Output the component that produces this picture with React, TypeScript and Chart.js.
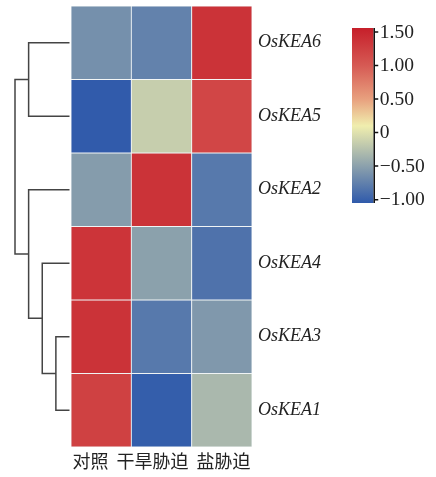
import { useEffect, useRef } from "react";
import { Chart, registerables } from "chart.js";

Chart.register(...registerables);

const conditions = ["对照", "干旱胁迫", "盐胁迫"];
const genes = ["OsKEA6", "OsKEA5", "OsKEA2", "OsKEA4", "OsKEA3", "OsKEA1"];
const controlValues = [-0.63, -1.04, -0.54, 1.36, 1.37, 1.24];
const droughtValues = [-0.74, -0.15, 1.37, -0.5, -0.81, -1.02];
const saltValues = [1.37, 1.19, -0.81, -0.86, -0.57, -0.32];
// hierarchical clustering: [childA, childB, height]; leaves 0..5, new clusters 6..
const linkage: [number, number, number][] = [
  [4, 5, 1],
  [3, 6, 2],
  [0, 1, 3],
  [2, 7, 3],
  [8, 9, 4],
];
const colorbarTicks = [1.5, 1.0, 0.5, 0, -0.5, -1.0];
const colorbarTickLabels = ["1.50", "1.00", "0.50", "0", "−0.50", "−1.00"];
const colorStops: [number, string][] = [
  [-1.05, "#2f5aab"],
  [0.1, "#f0eeae"],
  [0.5, "#e8a07e"],
  [1.0, "#d65a54"],
  [1.56, "#c61f2a"],
];

function hexToRgb(h: string) {
  const n = parseInt(h.slice(1), 16);
  return [(n >> 16) & 255, (n >> 8) & 255, n & 255];
}

function colorFor(v: number) {
  const s = colorStops;
  if (v <= s[0][0]) return s[0][1];
  if (v >= s[s.length - 1][0]) return s[s.length - 1][1];
  for (let i = 0; i < s.length - 1; i++) {
    const [v0, c0] = s[i];
    const [v1, c1] = s[i + 1];
    if (v >= v0 && v <= v1) {
      const t = (v - v0) / (v1 - v0);
      const a = hexToRgb(c0);
      const b = hexToRgb(c1);
      const r = a.map((x, k) => Math.round(x + (b[k] - x) * t));
      return `rgb(${r[0]},${r[1]},${r[2]})`;
    }
  }
  return s[0][1];
}

const dendroPlugin = {
  id: "dendro",
  afterDraw(chart: any) {
    const { ctx, chartArea, scales } = chart;
    const y = scales.y;
    const leafX = chartArea.left - 1.5;
    const rootX = 15;
    const maxH = Math.max(...linkage.map((m) => m[2]));
    const nodes = genes.map((_, i) => ({ x: leafX, y: y.getPixelForValue(i + 0.5) }));
    ctx.save();
    ctx.strokeStyle = "#444";
    ctx.lineWidth = 1.5;
    ctx.beginPath();
    linkage.forEach(([a, b, h]) => {
      const xm = leafX - (h / maxH) * (leafX - rootX);
      const A = nodes[a];
      const B = nodes[b];
      ctx.moveTo(A.x, A.y);
      ctx.lineTo(xm, A.y);
      ctx.lineTo(xm, B.y);
      ctx.lineTo(B.x, B.y);
      nodes.push({ x: xm, y: (A.y + B.y) / 2 });
    });
    ctx.stroke();
    ctx.restore();
  },
};

const colorbarPlugin = {
  id: "colorbar",
  afterDraw(chart: any) {
    const { ctx } = chart;
    const x0 = 352;
    const w = 21.5;
    const top = 28;
    const bottom = 203;
    const vMin = colorStops[0][0];
    const vMax = colorStops[colorStops.length - 1][0];
    const toPx = (v: number) => bottom - ((v - vMin) / (vMax - vMin)) * (bottom - top);
    ctx.save();
    const g = ctx.createLinearGradient(0, bottom, 0, top);
    colorStops.forEach(([v, c]) => g.addColorStop((v - vMin) / (vMax - vMin), c));
    ctx.fillStyle = g;
    ctx.fillRect(x0, top, w, bottom - top);
    const axX = x0 + w + 0.75;
    ctx.strokeStyle = "#111";
    ctx.lineWidth = 1.5;
    ctx.beginPath();
    ctx.moveTo(axX, top);
    ctx.lineTo(axX, bottom);
    colorbarTicks.forEach((v) => {
      const py = toPx(v);
      ctx.moveTo(axX, py);
      ctx.lineTo(axX + 4, py);
    });
    ctx.stroke();
    ctx.fillStyle = "#222";
    ctx.font = "19.5px 'Liberation Serif'";
    ctx.textAlign = "left";
    ctx.textBaseline = "middle";
    colorbarTicks.forEach((v, i) => {
      ctx.fillText(colorbarTickLabels[i], axX + 5.5, toPx(v) + 0.5);
    });
    ctx.restore();
  },
};

export default function App() {
  const ref = useRef<HTMLCanvasElement | null>(null);
  useEffect(() => {
    if (!ref.current) return;
    const columns = [controlValues, droughtValues, saltValues];
    const datasets = genes.map((gname, i) => ({
      label: gname,
      data: conditions.map(() => 1),
      backgroundColor: columns.map((col) => colorFor(col[i])),
      borderColor: "rgba(240,244,246,0.95)",
      borderWidth: 0.8,
      borderSkipped: false,
      barPercentage: 1,
      categoryPercentage: 1,
      xAxisID: "x",
      yAxisID: "y",
    }));
    const chart = new Chart(ref.current, {
      type: "bar",
      data: { labels: conditions, datasets },
      plugins: [dendroPlugin, colorbarPlugin],
      options: {
        responsive: false,
        animation: false,
        layout: { padding: { left: 71, right: 84, top: 6, bottom: 0 } },
        plugins: { legend: { display: false }, tooltip: { enabled: false } },
        scales: {
          x: {
            stacked: true,
            grid: { display: false, drawTicks: false },
            border: { display: false },
            ticks: { display: false },
            title: {
              display: true,
              text: "对照  干旱胁迫  盐胁迫",
              color: "#222",
              font: { family: "'Noto Sans CJK SC'", size: 18 },
              padding: { top: 3.5, bottom: 5 },
            },
            afterFit: (scale: any) => {
              scale.paddingLeft = 0;
              scale.paddingRight = 0;
            },
          },
          y: {
            type: "linear",
            stacked: true,
            min: 0,
            max: genes.length,
            reverse: true,
            display: false,
          },
          yLabels: {
            type: "category",
            position: "right",
            labels: genes,
            offset: true,
            grid: { display: false, drawTicks: false },
            border: { display: false },
            ticks: {
              padding: 6,
              color: "#222",
              font: { family: "'Liberation Serif'", size: 18, style: "italic" },
            },
            afterFit: (scale: any) => {
              scale.width = 100;
              scale.paddingTop = 0;
              scale.paddingBottom = 0;
            },
          },
        },
      },
    } as any);
    return () => chart.destroy();
  }, []);
  return (
    <div style={{ position: "absolute", left: 0, top: 0, width: 436, height: 477 }}>
      <canvas ref={ref} width={436} height={477} />
    </div>
  );
}
